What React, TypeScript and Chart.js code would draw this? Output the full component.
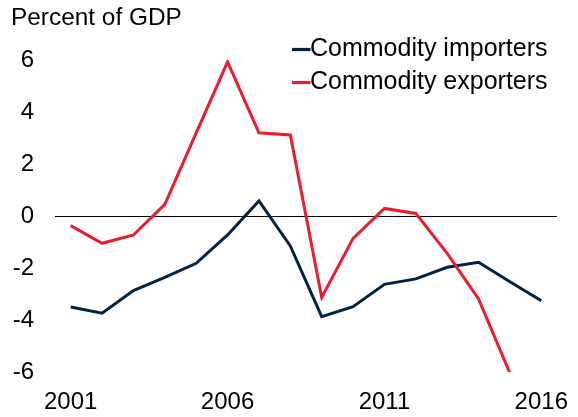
import React, { useEffect, useRef } from "react";
import { Chart, registerables } from "chart.js";

Chart.register(...registerables);

const years = ["2001","2002","2003","2004","2005","2006","2007","2008","2009","2010","2011","2012","2013","2014","2015","2016"];
const importers = [-3.5, -3.74, -2.87, -2.36, -1.82, -0.73, 0.58, -1.15, -3.87, -3.49, -2.63, -2.42, -1.97, -1.78, -2.53, -3.26];
const exporters = [-0.37, -1.05, -0.73, 0.45, 3.2, 5.93, 3.2, 3.12, -3.13, -0.86, 0.29, 0.1, -1.44, -3.19, -6.05, null];
const yTicks = [-6, -4, -2, 0, 2, 4, 6];
const titleText = "Percent of GDP";
const seriesNames = ["Commodity importers", "Commodity exporters"];
const NAVY = "#002345";
const RED = "#EB1C2D";
const FONT = "'Liberation Sans', Arial, sans-serif";

const overlayPlugin = {
  id: "overlay",
  afterDraw(chart: any) {
    const ctx = chart.ctx;
    ctx.save();
    ctx.fillStyle = "#000";
    ctx.textBaseline = "middle";
    ctx.textAlign = "left";
    ctx.font = `24.4px ${FONT}`;
    ctx.fillText(titleText, 11, 18);
    ctx.font = `25px ${FONT}`;
    const rows = [
      { name: seriesNames[0], color: NAVY, y: 49.5 },
      { name: seriesNames[1], color: RED, y: 82.5 },
    ];
    rows.forEach((r) => {
      ctx.strokeStyle = r.color;
      ctx.lineWidth = 3.2;
      ctx.beginPath();
      ctx.moveTo(292, r.y);
      ctx.lineTo(310.5, r.y);
      ctx.stroke();
      ctx.fillStyle = "#000";
      ctx.fillText(r.name, 310, r.y);
    });
    ctx.restore();
  },
};

export default function App() {
  const ref = useRef<HTMLCanvasElement>(null);
  useEffect(() => {
    if (!ref.current) return;
    const chart = new Chart(ref.current, {
      type: "line",
      data: {
        labels: years,
        datasets: [
          {
            label: seriesNames[0],
            data: importers,
            borderColor: NAVY,
            backgroundColor: NAVY,
            borderWidth: 3,
            pointRadius: 0,
            tension: 0,
            order: 1,
            clip: 0,
          },
          {
            label: seriesNames[1],
            data: exporters,
            borderColor: RED,
            backgroundColor: RED,
            borderWidth: 3,
            pointRadius: 0,
            tension: 0,
            order: 0,
            clip: 0,
          },
        ],
      },
      options: {
        responsive: false,
        animation: false,
        layout: { padding: { left: 0, right: 21, top: 60, bottom: 0 } },
        plugins: {
          legend: { display: false },
          title: { display: false },
          tooltip: { enabled: false },
        },
        scales: {
          x: {
            type: "category",
            offset: true,
            afterFit: (scale: any) => {
              scale.height = 45;
              scale.paddingLeft = 0;
              scale.paddingRight = 0;
            },
            grid: { display: false, drawTicks: false },
            border: { display: false },
            ticks: {
              color: "#000",
              font: { family: FONT, size: 24 },
              padding: 16,
              maxRotation: 0,
              autoSkip: false,
              callback: (_v: any, i: number) => (i % 5 === 0 ? years[i] : ""),
            },
          },
          y: {
            min: -6,
            max: 6,
            afterBuildTicks: (scale: any) => {
              scale.ticks = yTicks.map((v) => ({ value: v }));
            },
            afterFit: (scale: any) => {
              scale.width = 55;
            },
            grid: {
              drawTicks: false,
              color: (c: any) => (c.tick && c.tick.value === 0 ? "#000" : "rgba(0,0,0,0)"),
              lineWidth: 1,
            },
            border: { display: false },
            ticks: {
              color: "#000",
              font: { family: FONT, size: 24 },
              padding: 21,
            },
          },
        },
      },
      plugins: [overlayPlugin],
    });
    return () => chart.destroy();
  }, []);
  return (
    <div style={{ position: "fixed", left: 0, top: 0, width: 578, height: 417, background: "#fff" }}>
      <canvas ref={ref} width={578} height={417} style={{ width: 578, height: 417 }} />
    </div>
  );
}
